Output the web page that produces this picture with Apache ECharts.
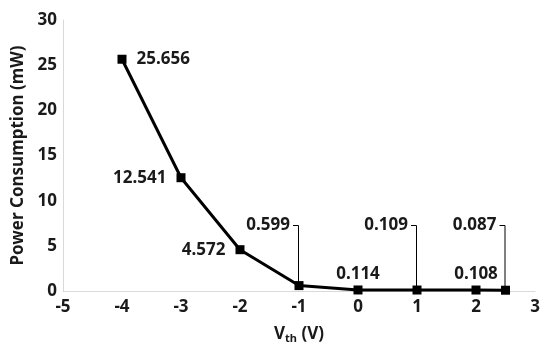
<!DOCTYPE html>
<html><head><meta charset="utf-8">
<script src="https://cdn.jsdelivr.net/npm/echarts@6/dist/echarts.min.js"></script>
<style>html,body{margin:0;padding:0;background:#fff}#c{width:550px;height:349px}</style>
</head><body><div id="c"></div>
<script>
const vth = [-4, -3, -2, -1, 0, 1, 2, 2.5];
const power = [25.656, 12.541, 4.572, 0.599, 0.114, 0.109, 0.108, 0.087];
const powerLabels = ['25.656', '12.541', '4.572', '0.599', '0.114', '0.109', '0.108', '0.087'];
const xTicks = [-5, -4, -3, -2, -1, 0, 1, 2, 3];
const yTicks = [0, 5, 10, 15, 20, 25, 30];

// label placement style (not data)
const placement = ['right', 'left', 'left', 'leader', 'top', 'leader', 'top', 'leader'];
const FONT = '"Noto Sans", "Open Sans", sans-serif';
const FS = 17;
const leaderLevel = 7.25;

const lineData = vth.map((x, i) => {
  const p = placement[i];
  const item = { value: [x, power[i]] };
  if (p === 'leader') item.label = { show: false };
  else item.label = { show: true, position: p, distance: p === 'top' ? 3 : 10 };
  return item;
});
const leaderData = [];
vth.forEach((x, i) => { if (placement[i] === 'leader') leaderData.push([x, power[i], i]); });

const chart = echarts.init(document.getElementById('c'), null, { renderer: 'canvas' });
chart.setOption({
  animation: false,
  textStyle: { fontFamily: FONT },
  grid: { left: 63, right: 15, top: 20, bottom: 58 },
  xAxis: {
    type: 'value', min: xTicks[0], max: xTicks[xTicks.length - 1], interval: 1,
    axisLine: { show: true, onZero: false, lineStyle: { color: '#d9d9d9', width: 1 } },
    axisTick: { show: false }, splitLine: { show: false },
    axisLabel: { margin: 8, color: '#1a1a1a', fontSize: FS, fontWeight: 'bold', fontFamily: FONT },
    name: '{a|V}{b|th}{a| (V)}', nameLocation: 'middle', nameGap: 33,
    nameTextStyle: {
      rich: {
        a: { fontSize: FS, fontWeight: 'bold', color: '#1a1a1a', fontFamily: FONT },
        b: { fontSize: 11, fontWeight: 'bold', color: '#1a1a1a', fontFamily: FONT, verticalAlign: 'bottom', padding: [9, 0, 0, 0] }
      }
    }
  },
  yAxis: {
    type: 'value', min: yTicks[0], max: yTicks[yTicks.length - 1], interval: 5,
    axisLine: { show: true, onZero: false, lineStyle: { color: '#d9d9d9', width: 1 } },
    axisTick: { show: false }, splitLine: { show: false },
    axisLabel: { margin: 6, color: '#1a1a1a', fontSize: FS, fontWeight: 'bold', fontFamily: FONT },
    name: 'Power Consumption (mW)', nameLocation: 'middle', nameGap: 35,
    nameTextStyle: { fontSize: FS, fontWeight: 'bold', color: '#1a1a1a', fontFamily: FONT }
  },
  series: [
    {
      type: 'line', data: lineData,
      symbol: 'rect', symbolSize: 9,
      lineStyle: { color: '#000', width: 3 },
      itemStyle: { color: '#000' },
      label: {
        color: '#1a1a1a', fontSize: FS, fontWeight: 'bold', fontFamily: FONT,
        formatter: p => powerLabels[p.dataIndex]
      },
      z: 3
    },
    {
      type: 'custom', data: leaderData,
      renderItem: (params, api) => {
        const x = api.value(0), y = api.value(1), idx = api.value(2);
        const p = api.coord([x, y]);
        const top = api.coord([x, leaderLevel])[1];
        return {
          type: 'group',
          children: [
            { type: 'polyline', shape: { points: [[p[0] - 0.5, p[1]], [p[0] - 0.5, top], [p[0] - 6, top]] },
              style: { stroke: '#000', lineWidth: 1, fill: null } },
            { type: 'text', style: { x: p[0] - 9, y: top, text: powerLabels[idx], align: 'right', verticalAlign: 'middle',
              fill: '#1a1a1a', font: 'bold ' + FS + 'px ' + FONT } }
          ]
        };
      },
      z: 2
    }
  ]
});
</script></body></html>
